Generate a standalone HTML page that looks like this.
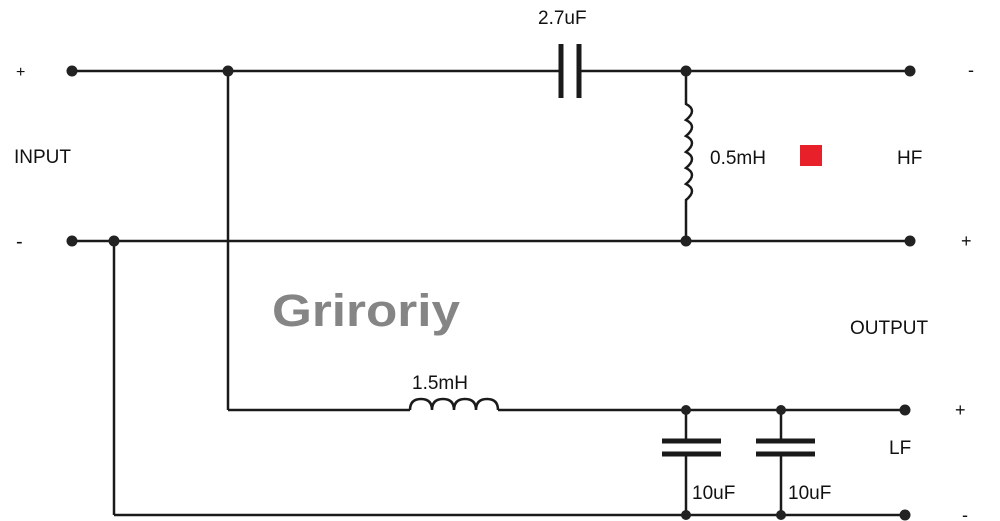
<!DOCTYPE html>
<html><head><style>
html,body{margin:0;padding:0;background:#fff;width:1000px;height:521px;overflow:hidden}
svg{display:block}
text{font-family:"Liberation Sans",Arial,sans-serif;fill:#111}
</style></head><body>
<svg width="1000" height="521" viewBox="0 0 1000 521" xmlns="http://www.w3.org/2000/svg">
<g stroke="#1a1a1a" stroke-width="2.5" fill="none">
<line x1="72" y1="71" x2="561" y2="71"/>
<line x1="579" y1="71" x2="910" y2="71"/>
<line x1="561" y1="44" x2="561" y2="98" stroke-width="5"/>
<line x1="579" y1="44" x2="579" y2="98" stroke-width="5"/>
<line x1="72" y1="241" x2="910" y2="241"/>
<path d="M686 71 V104 q12 6 0 16 q12 6 0 16 q12 6 0 16 q12 6 0 16 q12 6 0 16 q12 6 0 16 V241"/>
<line x1="228" y1="71" x2="228" y2="410"/>
<line x1="228" y1="410" x2="410" y2="410"/>
<path d="M410 410 q0 -11 11 -11 q11 0 11 11 q0 -11 11 -11 q11 0 11 11 q0 -11 11 -11 q11 0 11 11 q0 -11 11 -11 q11 0 11 11"/>
<line x1="498" y1="410" x2="905" y2="410"/>
<line x1="114" y1="241" x2="114" y2="515"/>
<line x1="114" y1="515" x2="905" y2="515"/>
<line x1="686" y1="410" x2="686" y2="441"/>
<line x1="686" y1="454" x2="686" y2="515"/>
<line x1="662" y1="441" x2="721" y2="441" stroke-width="5"/>
<line x1="662" y1="454" x2="721" y2="454" stroke-width="5"/>
<line x1="781" y1="410" x2="781" y2="441"/>
<line x1="781" y1="454" x2="781" y2="515"/>
<line x1="756" y1="441" x2="815" y2="441" stroke-width="5"/>
<line x1="756" y1="454" x2="815" y2="454" stroke-width="5"/>
</g>
<g fill="#222">
<circle cx="72" cy="71" r="5.5"/><circle cx="228" cy="71" r="5.5"/>
<circle cx="686" cy="71" r="5.5"/><circle cx="910" cy="71" r="5.5"/>
<circle cx="72" cy="241" r="5.5"/><circle cx="114" cy="241" r="5.5"/>
<circle cx="686" cy="241" r="5.5"/><circle cx="910" cy="241" r="5.5"/>
<circle cx="686" cy="410" r="5"/><circle cx="781" cy="410" r="5"/><circle cx="905" cy="410" r="5.5"/>
<circle cx="686" cy="515" r="5"/><circle cx="781" cy="515" r="5"/><circle cx="905" cy="515" r="5.5"/>
</g>
<rect x="800" y="145" width="22" height="21" fill="#e8202a"/>
<text x="538" y="24" font-size="19">2.7uF</text>
<text x="710" y="164" font-size="19">0.5mH</text>
<text x="897" y="164" font-size="19">HF</text>
<text x="14" y="163" font-size="19">INPUT</text>
<text x="16" y="77" font-size="16" fill="#999">+</text>
<text x="16" y="248" font-size="20">-</text>
<text x="968" y="76" font-size="18">-</text>
<text x="961" y="247" font-size="18">+</text>
<text x="272" y="326" font-size="45" font-weight="bold" textLength="188" lengthAdjust="spacingAndGlyphs" style="fill:#858585">Griroriy</text>
<text x="850" y="334" font-size="19">OUTPUT</text>
<text x="412" y="389" font-size="19">1.5mH</text>
<text x="889" y="454" font-size="19">LF</text>
<text x="692" y="499" font-size="19">10uF</text>
<text x="788" y="499" font-size="19">10uF</text>
<text x="955" y="416" font-size="18">+</text>
<text x="962" y="521" font-size="18">-</text>
</svg>
</body></html>
